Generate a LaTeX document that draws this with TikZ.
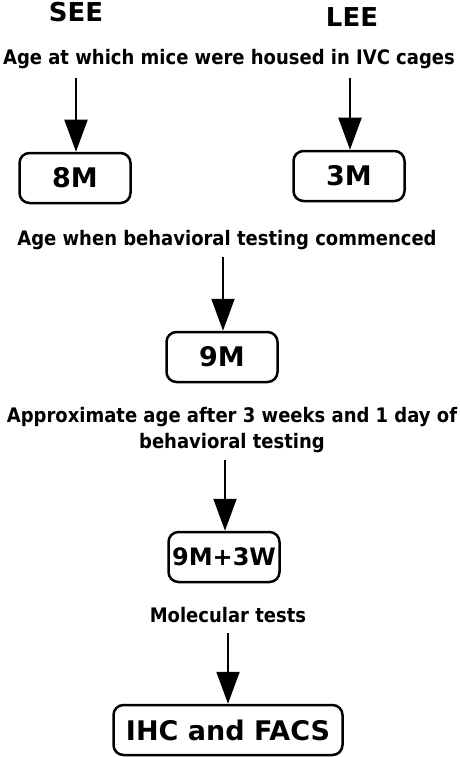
\documentclass[tikz,border=0pt]{standalone}
\usepackage{fontspec}
\setmainfont{DejaVu Sans}
\newfontfamily\capfont{DejaVu Sans Condensed}
\usetikzlibrary{arrows.meta}

\begin{document}
\begin{tikzpicture}[
                x=1pt, y=-1pt,
                line width=2pt,
                >={Triangle[length=32pt,width=23pt]},
                % stile per le scatole dell'eta
                agebox/.style={
                    draw,
                    line width=2.5pt,
                    rounded corners=10pt,
                    minimum width=111pt,
                    minimum height=50pt,
                    inner sep=1pt,
                    font=\bfseries\fontsize{27}{32}\selectfont
                },
                % stile per le didascalie
                caption/.style={
                    align=center,
                    inner sep=0pt,
                    font=\capfont\bfseries\fontsize{20}{26}\selectfont
                },
                group/.style={
                    inner sep=0pt,
                    font=\bfseries\fontsize{26}{30}\selectfont
                }
            ]

                \useasboundingbox (0,0) rectangle (459,757);

                % ========================================================
                % 1. Gruppi e prima didascalia
                % ========================================================
                \node[group] (see) at (76,12) {SEE};
                \node[group] (lee) at (352,17) {LEE};

                \node[caption] (housed) at (229,59) {Age at which mice were housed in IVC cages};

                \coordinate (see_start) at (76,78);
                \coordinate (lee_start) at (350,78);

                \node[agebox] (m8) at (75,178) {8M};
                \node[agebox] (m3) at (349,176) {3M};

                \draw[->] (see_start) -- (m8.north -| see_start);
                \draw[->] (lee_start) -- (m3.north -| lee_start);

                % ========================================================
                % 2. Inizio dei test comportamentali
                % ========================================================
                \node[caption] (commenced) at (227,240) {Age when behavioral testing commenced};

                \coordinate (c_start) at (223,257);
                \node[agebox] (m9) at (222,357) {9M};

                \draw[->] (c_start) -- (m9.north -| c_start);

                % ========================================================
                % 3. Dopo 3 settimane
                % ========================================================
                \node[caption] (approx) at (232,430) {Approximate age after 3 weeks and 1 day of\\behavioral testing};

                \coordinate (a_start) at (225,460);
                \node[agebox, font=\bfseries\fontsize{24}{30}\selectfont] (m9w3) at (224,557) {9M+3W};

                \draw[->] (a_start) -- (m9w3.north -| a_start);

                % ========================================================
                % 4. Test molecolari
                % ========================================================
                \node[caption] (molecular) at (228,615) {Molecular tests};

                \coordinate (m_start) at (228,633);
                \node[agebox, minimum width=229pt] (ihc) at (228,730) {IHC and FACS};

                \draw[->] (m_start) -- (ihc.north -| m_start);

            \end{tikzpicture}
\end{document}
